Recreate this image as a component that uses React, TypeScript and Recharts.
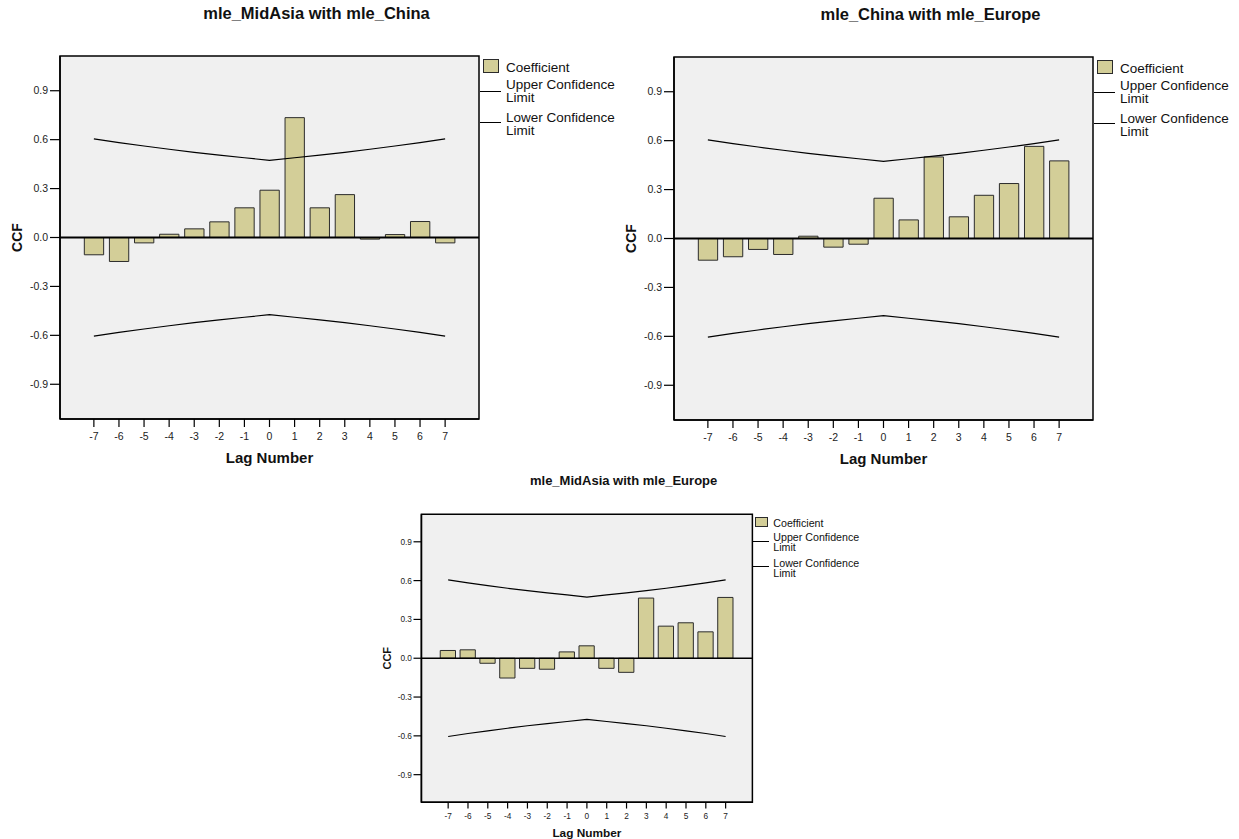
import React from "react";
import {
  ComposedChart,
  Bar,
  Line,
  XAxis,
  YAxis,
  ReferenceLine,
  ReferenceArea,
} from "recharts";

const lags = [-7, -6, -5, -4, -3, -2, -1, 0, 1, 2, 3, 4, 5, 6, 7];
const upperLimit = [0.605, 0.582, 0.561, 0.541, 0.522, 0.505, 0.489, 0.473, 0.489, 0.505, 0.522, 0.541, 0.561, 0.582, 0.605];
const lowerLimit = [-0.605, -0.582, -0.561, -0.541, -0.522, -0.505, -0.489, -0.473, -0.489, -0.505, -0.522, -0.541, -0.561, -0.582, -0.605];

const midAsiaChina = [-0.106, -0.147, -0.033, 0.02, 0.053, 0.096, 0.182, 0.29, 0.735, 0.182, 0.263, -0.01, 0.018, 0.098, -0.033];
const chinaEurope = [-0.133, -0.112, -0.067, -0.098, 0.014, -0.053, -0.035, 0.247, 0.114, 0.5, 0.133, 0.265, 0.337, 0.565, 0.476];
const midAsiaEurope = [0.06, 0.065, -0.039, -0.153, -0.078, -0.085, 0.049, 0.096, -0.078, -0.109, 0.465, 0.248, 0.274, 0.204, 0.47];

const yTicks = [-0.9, -0.6, -0.3, 0, 0.3, 0.6, 0.9];
const Y_DOMAIN: [number, number] = [-1.113, 1.113];
const X_DOMAIN: [number, number] = [-8.35, 8.35];

const FONT = '"Liberation Sans", Arial, sans-serif';
const BAR_FILL = "#d3ce98";
const PLOT_BG = "#f0f0f0";

type PanelProps = {
  title: string;
  values: number[];
  plotLeft: number;
  plotTop: number;
  plotW: number;
  plotH: number;
  s: number;
};

function LegendText({ left, baseline, s, lines }: { left: number; baseline: number; s: number; lines: string[] }) {
  const fs = 13.5 * s;
  const lh = 13 * s;
  const top = baseline - ((lh - 1.117 * fs) / 2 + 0.905 * fs);
  return (
    <div
      style={{
        position: "absolute",
        left,
        top,
        fontSize: fs,
        lineHeight: `${lh}px`,
        fontFamily: FONT,
        color: "#111",
        whiteSpace: "nowrap",
      }}
    >
      {lines.map((l) => (
        <div key={l}>{l}</div>
      ))}
    </div>
  );
}

function LegendRule({ left, top, width }: { left: number; top: number; width: number }) {
  return <div style={{ position: "absolute", left, top, width, height: 1, background: "#000" }} />;
}

function CcfPanel({ title, values, plotLeft, plotTop, plotW, plotH, s }: PanelProps) {
  const data = lags.map((lag, i) => ({
    lag,
    coef: values[i],
    upper: upperLimit[i],
    lower: lowerLimit[i],
  }));

  const left = plotLeft - 60 * s;
  const top = plotTop - 56 * s;
  const width = 60 * s + plotW + 141 * s;
  const height = 56 * s + plotH + 51 * s;
  const right = plotLeft + plotW - left;
  const titleSize = 16.5 * s;
  const titleCenter = plotLeft + plotW / 2 + 47 * s - left;
  const titleBase = plotTop - 37 * s - top;
  const bandPx = plotW / (X_DOMAIN[1] - X_DOMAIN[0]);
  const tickFont = { fontSize: 10.5 * s, fill: "#222", fontFamily: FONT };
  const legendX = right + 27 * s;
  const legendTop = plotTop - top;

  return (
    <div style={{ position: "absolute", left, top, width, height }}>
      <div
        style={{
          position: "absolute",
          left: titleCenter - 200,
          width: 400,
          top: titleBase - 0.8465 * titleSize,
          lineHeight: `${titleSize}px`,
          fontSize: titleSize,
          fontWeight: "bold",
          fontFamily: FONT,
          textAlign: "center",
          color: "#111",
        }}
      >
        {title}
      </div>
      <ComposedChart
        width={width}
        height={height}
        data={data}
        margin={{ top: 56 * s, right: 141 * s, bottom: 0, left: -26 * s }}
      >
        <XAxis
          dataKey="lag"
          type="number"
          domain={X_DOMAIN}
          ticks={lags}
          interval={0}
          height={51 * s}
          tickSize={8 * s}
          tickMargin={6 * s}
          tick={tickFont}
          axisLine={{ stroke: "#000", strokeWidth: 1.5 }}
          tickLine={{ stroke: "#000", strokeWidth: 1.2 }}
          label={{
            value: "Lag Number",
            position: "insideBottom",
            offset: 7.3 * s,
            style: { fontSize: 15 * s, fontWeight: "bold", fill: "#111", fontFamily: FONT },
          }}
        />
        <YAxis
          type="number"
          domain={Y_DOMAIN}
          ticks={yTicks}
          interval={0}
          width={86 * s}
          tickSize={10 * s}
          tickMargin={2 * s}
          tick={tickFont}
          tickFormatter={(v: number) => v.toFixed(1)}
          axisLine={{ stroke: "#000", strokeWidth: 1.5 }}
          tickLine={{ stroke: "#000", strokeWidth: 1.2 }}
          label={{
            value: "CCF",
            angle: -90,
            position: "center",
            style: { fontSize: 14 * s, fontWeight: "bold", fill: "#111", fontFamily: FONT },
          }}
        />
        {/* plot background with its frame */}
        <ReferenceArea
          x1={X_DOMAIN[0]}
          x2={X_DOMAIN[1]}
          y1={Y_DOMAIN[0]}
          y2={Y_DOMAIN[1]}
          fill={PLOT_BG}
          fillOpacity={1}
          stroke="#000"
          strokeWidth={1.5}
        />
        <Bar
          dataKey="coef"
          fill={BAR_FILL}
          stroke="#2b2b2b"
          strokeWidth={1}
          barSize={bandPx * 0.77}
          isAnimationActive={false}
        />
        <Line type="linear" dataKey="upper" stroke="#000" strokeWidth={1.2} dot={false} isAnimationActive={false} />
        <Line type="linear" dataKey="lower" stroke="#000" strokeWidth={1.2} dot={false} isAnimationActive={false} />
        <ReferenceLine y={0} stroke="#000" strokeWidth={2 * s} />
      </ComposedChart>

      <div
        style={{
          position: "absolute",
          left: right + 3.7 * s,
          top: legendTop + 3.3 * s,
          width: 16.6 * s,
          height: 13.4 * s,
          boxSizing: "border-box",
          background: BAR_FILL,
          border: "1px solid #2b2b2b",
        }}
      />
      <LegendText left={legendX} baseline={legendTop + 16 * s} s={s} lines={["Coefficient"]} />
      <LegendRule left={right + 1 * s} top={legendTop + 34.7 * s} width={21 * s} />
      <LegendText left={legendX} baseline={legendTop + 33.5 * s} s={s} lines={["Upper Confidence", "Limit"]} />
      <LegendRule left={right + 1 * s} top={legendTop + 65.7 * s} width={21 * s} />
      <LegendText left={legendX} baseline={legendTop + 66.5 * s} s={s} lines={["Lower Confidence", "Limit"]} />
    </div>
  );
}

export default function App() {
  return (
    <div
      style={{
        position: "absolute",
        left: 0,
        top: 0,
        width: 1239,
        height: 839,
        background: "#fff",
        overflow: "hidden",
      }}
    >
      <CcfPanel title="mle_MidAsia with mle_China" values={midAsiaChina} plotLeft={60} plotTop={56} plotW={419} plotH={363} s={1} />
      <CcfPanel title="mle_China with mle_Europe" values={chinaEurope} plotLeft={674} plotTop={57} plotW={419} plotH={363} s={1} />
      <CcfPanel title="mle_MidAsia with mle_Europe" values={midAsiaEurope} plotLeft={421} plotTop={514} plotW={331} plotH={288} s={0.79} />
    </div>
  );
}
